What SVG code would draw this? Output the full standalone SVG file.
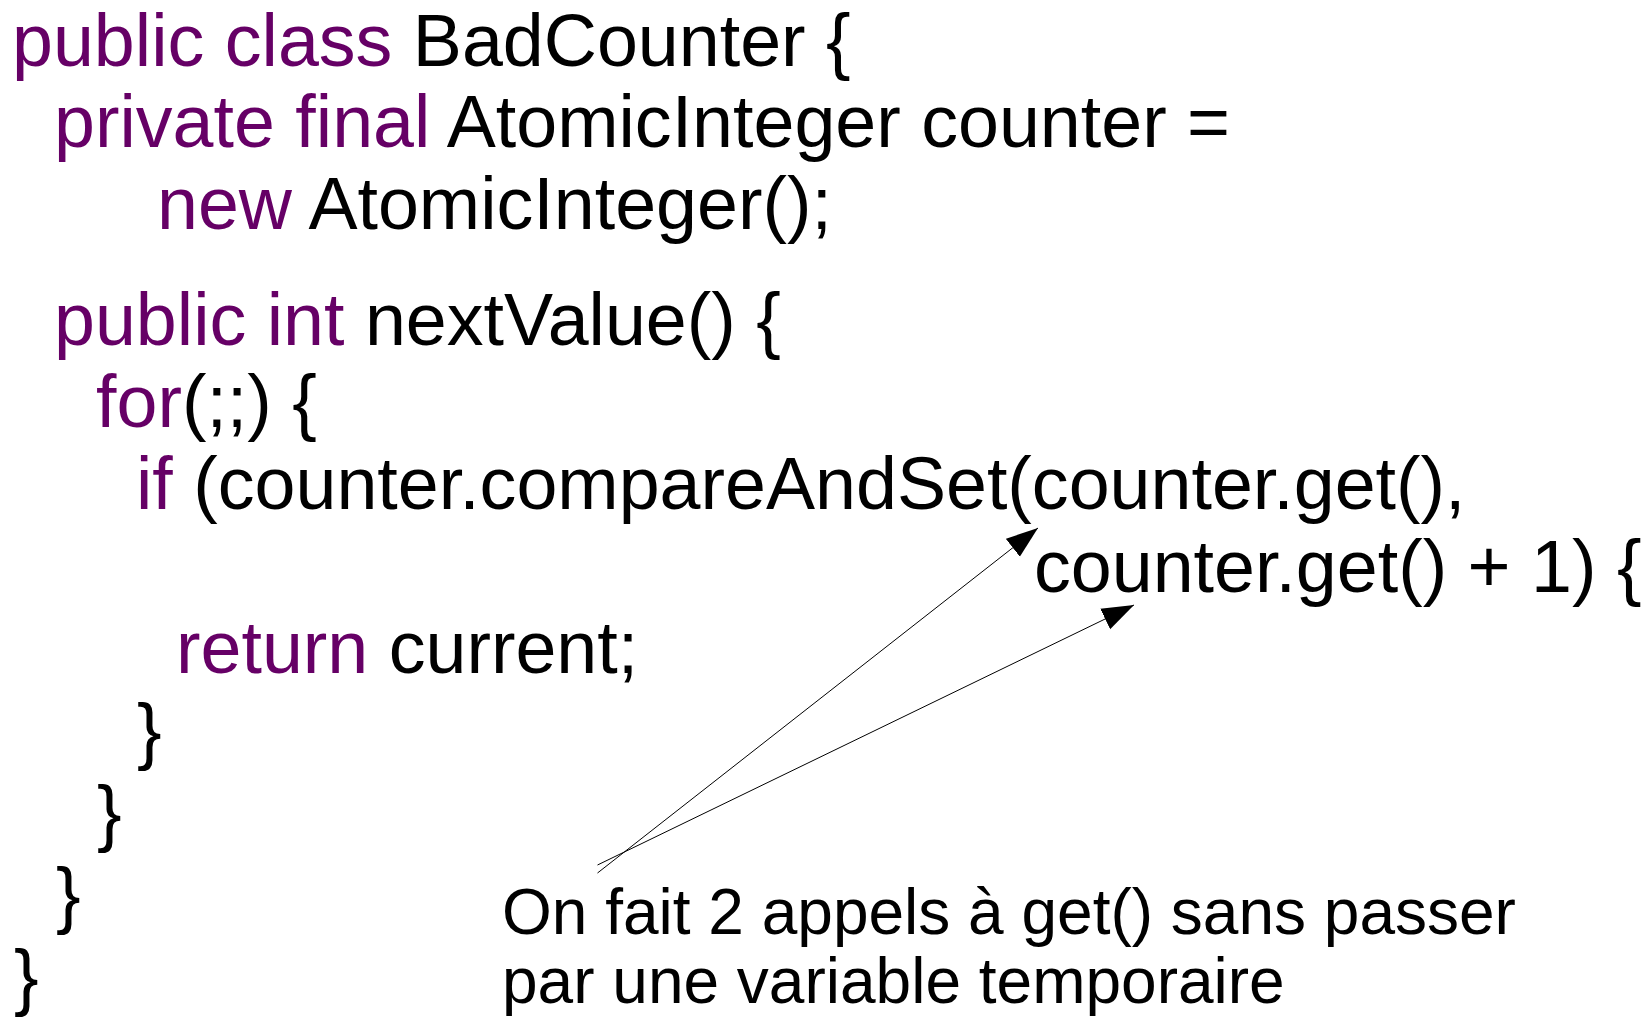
<svg xmlns="http://www.w3.org/2000/svg" width="1651" height="1019" viewBox="0 0 1651 1019">
<style>
.code{font-family:"Liberation Sans",Arial,sans-serif;font-size:73.6px;fill:#000000}
.kw{fill:#660066}
.note{font-family:"Liberation Sans",Arial,sans-serif;font-size:64px;fill:#000000}
.conn{stroke:#000000;stroke-width:1;fill:none}
</style>
<defs>
<marker id="ah" markerUnits="userSpaceOnUse" markerWidth="32" markerHeight="24" viewBox="0 0 31 22" refX="31" refY="11" orient="auto">
<path d="M0,0 L31,11 L0,22 z" fill="#000000"/>
</marker>
</defs>
<rect width="1651" height="1019" fill="#ffffff"/>
<g id="code">
<text class="code" x="12" y="66"><tspan class="kw">public class</tspan> BadCounter {</text>
<text class="code" x="54" y="147"><tspan class="kw">private final</tspan> AtomicInteger counter =</text>
<text class="code" x="157" y="229"><tspan class="kw">new</tspan> AtomicInteger();</text>
<text class="code" x="54" y="345"><tspan class="kw">public int</tspan> nextValue() {</text>
<text class="code" x="96" y="427"><tspan class="kw">for</tspan>(;;) {</text>
<text class="code" x="136" y="509"><tspan class="kw">if</tspan> (counter.compareAndSet(counter.get(),</text>
<text class="code" x="1034" y="592">counter.get() + 1) {</text>
<text class="code" x="176" y="673"><tspan class="kw">return</tspan> current;</text>
<text class="code" x="137" y="756">}</text>
<text class="code" x="97" y="838">}</text>
<text class="code" x="56" y="920">}</text>
<text class="code" x="14" y="1002">}</text>
</g>
<g id="note">
<text class="note" x="502" y="934">On fait 2 appels à get() sans passer</text>
<text class="note" x="502" y="1003">par une variable temporaire</text>
</g>
<g id="connectors">
<line class="conn" x1="597.5" y1="873" x2="1038" y2="528" marker-end="url(#ah)"/>
<line class="conn" x1="597.5" y1="865" x2="1134" y2="605" marker-end="url(#ah)"/>
</g>
</svg>
